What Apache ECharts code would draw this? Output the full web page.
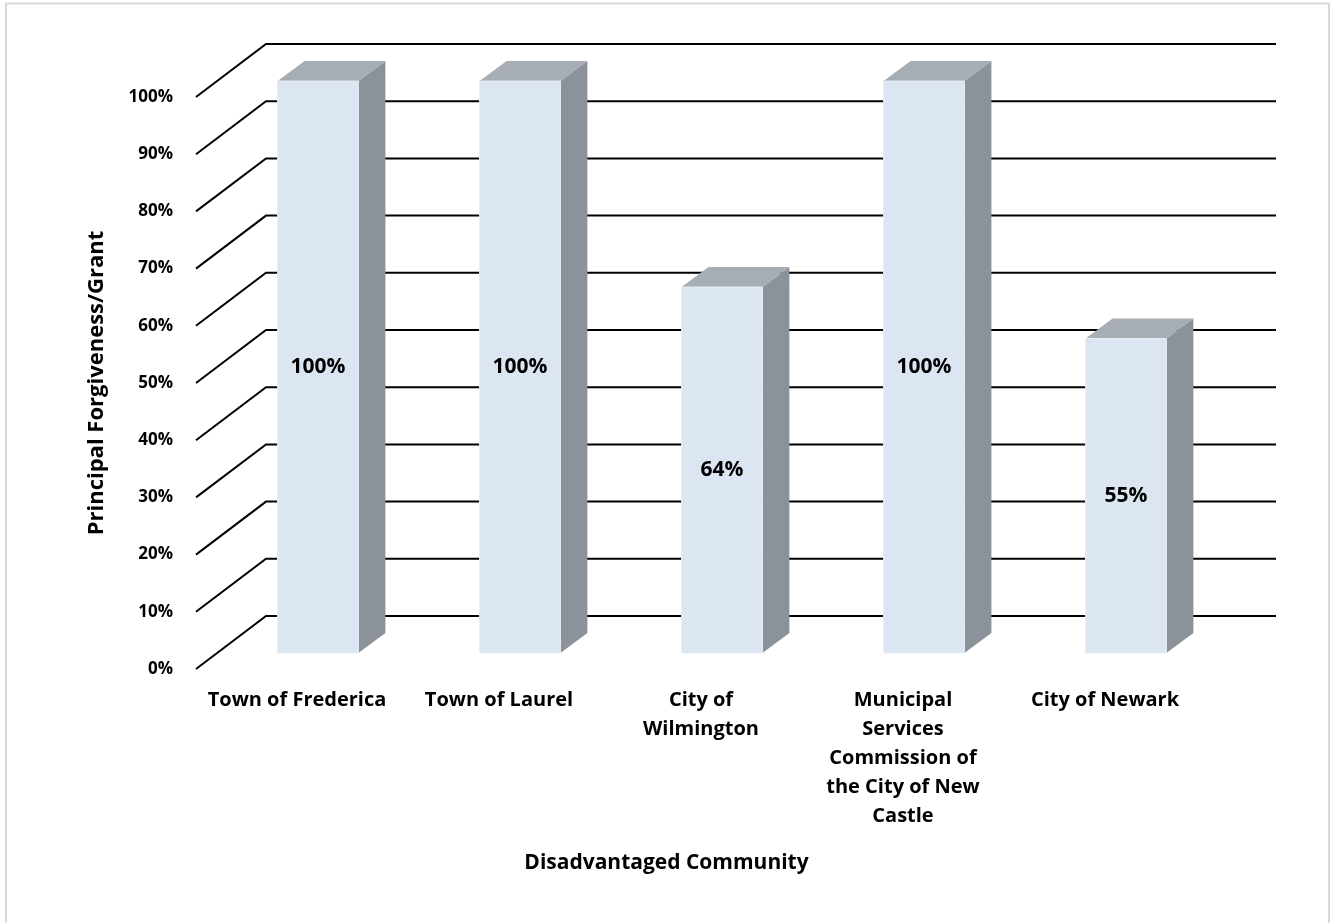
<!DOCTYPE html>
<html>
<head>
<meta charset="utf-8">
<script src="https://cdn.jsdelivr.net/npm/echarts@6/dist/echarts.min.js"></script>
<style>
  html, body { margin: 0; padding: 0; background: #fff; }
  #chart { width: 1333px; height: 923px; }
</style>
</head>
<body>
<div id="chart"></div>
<script>
// 数据
const categories = ['Town of Frederica', 'Town of Laurel', 'City of\nWilmington', 'Municipal\nServices\nCommission of\nthe City of New\nCastle', 'City of Newark']
const values = [100, 100, 64, 100, 55]
const valueLabels = ['100%', '100%', '64%', '100%', '55%']
const tickValues = [0, 10, 20, 30, 40, 50, 60, 70, 80, 90, 100]

const FONT = '"Open Sans", "DejaVu Sans", sans-serif'
// 透视偏移: 后墙相对前面的偏移
const WALL_DX = 70
const WALL_DY = -53
// 柱子前面在深度上的位置 (从前往后的比例) 和柱子深度
const BAR_FRONT = 0.3
const BAR_DX = 27
const BAR_DY = -20

let chart = echarts.init(document.getElementById('chart'))

// 网格线: 前端斜线 + 后墙横线
const renderWall = (params, api) => {
  let cs = params.coordSys
  let y = api.coord([0, api.value(0)])[1]
  return {
    type: 'polyline',
    shape: {
      points: [
        [cs.x, y],
        [cs.x + WALL_DX, y + WALL_DY],
        [cs.x + cs.width + WALL_DX, y + WALL_DY]
      ]
    },
    style: { stroke: '#000', lineWidth: 2, fill: null }
  }
}

// 立体柱子
const renderBar = (params, api) => {
  let idx = api.value(0)
  let top = api.coord([idx, api.value(1)])
  let base = api.coord([idx, 0])
  let w = api.size([1, 0])[0] * 0.4
  let fx = WALL_DX * BAR_FRONT
  let fy = WALL_DY * BAR_FRONT
  let xl = top[0] - w / 2 + fx
  let xr = xl + w
  let yt = top[1] + fy
  let yb = base[1] + fy
  return {
    type: 'group',
    children: [
      {
        type: 'polygon',
        shape: { points: [[xr, yt], [xr + BAR_DX, yt + BAR_DY], [xr + BAR_DX, yb + BAR_DY], [xr, yb]] },
        style: { fill: '#8b9299' }
      },
      {
        type: 'polygon',
        shape: { points: [[xl, yt], [xr, yt], [xr + BAR_DX, yt + BAR_DY], [xl + BAR_DX, yt + BAR_DY]] },
        style: { fill: '#a6adb4' }
      },
      {
        type: 'rect',
        shape: { x: xl, y: yt, width: w, height: yb - yt },
        style: { fill: '#dce6f2', stroke: '#e8eef6', lineWidth: 1 }
      },
      {
        type: 'text',
        x: (xl + xr) / 2,
        y: (yt + yb) / 2,
        style: {
          text: valueLabels[params.dataIndex],
          fill: '#000',
          font: 'bold 21px ' + FONT,
          align: 'center',
          verticalAlign: 'middle'
        }
      }
    ]
  }
}

let option = {
  animation: false,
  backgroundColor: '#fff',
  textStyle: { fontFamily: FONT },
  title: {
    text: 'Disadvantaged Community',
    left: 'center',
    top: 848,
    textStyle: { fontFamily: FONT, fontWeight: 'bold', fontSize: 21, color: '#000' }
  },
  graphic: [
    {
      type: 'rect',
      silent: true,
      shape: { x: 6, y: 3.5, width: 1323, height: 940 },
      style: { fill: null, stroke: '#d9d9d9', lineWidth: 2 }
    }
  ],
  grid: {
    left: 196,
    right: 127,
    top: 97,
    bottom: 254
  },
  xAxis: {
    type: 'category',
    data: categories,
    axisLine: { show: false },
    axisTick: { show: false },
    splitLine: { show: false },
    axisLabel: {
      interval: 0,
      margin: 17,
      color: '#000',
      fontWeight: 'bold',
      fontSize: 20,
      lineHeight: 29,
      fontFamily: FONT
    }
  },
  yAxis: {
    type: 'value',
    min: 0,
    max: 100,
    interval: 10,
    name: 'Principal Forgiveness/Grant',
    nameLocation: 'middle',
    nameRotate: 90,
    nameGap: 88,
    nameTextStyle: { color: '#000', fontWeight: 'bold', fontSize: 22, fontFamily: FONT },
    axisLine: { show: false },
    axisTick: { show: false },
    splitLine: { show: false },
    axisLabel: {
      formatter: '{value}%',
      margin: 23,
      color: '#000',
      fontWeight: 'bold',
      fontSize: 17,
      fontFamily: FONT
    }
  },
  series: [
    {
      type: 'custom',
      renderItem: renderWall,
      data: tickValues.map(v => [v]),
      encode: { y: 0 },
      silent: true,
      z: 1
    },
    {
      type: 'custom',
      renderItem: renderBar,
      data: values.map((v, i) => [i, v]),
      encode: { x: 0, y: 1 },
      z: 2
    }
  ]
}

chart.setOption(option)
</script>
</body>
</html>
